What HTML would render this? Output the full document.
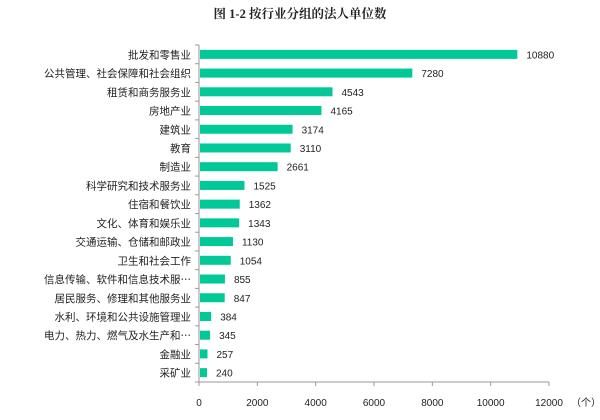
<!DOCTYPE html>
<html><head><meta charset="utf-8"><style>
body{margin:0;background:#fff;width:600px;height:415px;overflow:hidden}
svg text{font-family:"Liberation Sans","Noto Sans CJK SC",sans-serif;fill:#222}
</style></head><body>
<svg id="chart" width="600" height="415" xmlns="http://www.w3.org/2000/svg">
<text x="300" y="18" text-anchor="middle" font-size="12.5" font-weight="bold" style="font-family:'Liberation Serif','Noto Serif CJK SC',serif">图 1-2  按行业分组的法人单位数</text>
<g id="plot"></g>
</svg>
<script>
const categories=["批发和零售业","公共管理、社会保障和社会组织","租赁和商务服务业","房地产业","建筑业","教育","制造业","科学研究和技术服务业","住宿和餐饮业","文化、体育和娱乐业","交通运输、仓储和邮政业","卫生和社会工作","信息传输、软件和信息技术服⋯","居民服务、修理和其他服务业","水利、环境和公共设施管理业","电力、热力、燃气及水生产和⋯","金融业","采矿业"];
const values=[10880,7280,4543,4165,3174,3110,2661,1525,1362,1343,1130,1054,855,847,384,345,257,240];
const ticks=[0,2000,4000,6000,8000,10000,12000];
const NS="http://www.w3.org/2000/svg";
const g=document.getElementById('plot');
const x0=199,x1=549,yTop=45,yBot=382,max=12000;
const band=(yBot-yTop)/categories.length;
const X=v=>x0+(v/max)*(x1-x0);
const Y=i=>yTop+band*(i+0.5);
function mk(t,a){const e=document.createElementNS(NS,t);for(const k in a)e.setAttribute(k,a[k]);g.appendChild(e);return e;}
let e;
e=mk('line',{x1:x0,y1:yTop,x2:x0,y2:yBot,stroke:'#999','stroke-width':1});


e=mk('line',{x1:x0,y1:yBot,x2:x1,y2:yBot,stroke:'#999','stroke-width':1});


for(let i=0;i<=categories.length;i++){
 e=mk('line',{x1:x0-4,y1:yTop+band*i,x2:x0,y2:yTop+band*i,stroke:'#999'});
 
 
}
ticks.forEach(t=>{
 e=mk('line',{x1:X(t),y1:yBot,x2:X(t),y2:yBot+4,stroke:'#999'});
 
 
 e=mk('text',{x:X(t),y:yBot+24,'text-anchor':'middle','font-size':10});
 e.textContent=t;
 
 
});
e=mk('text',{x:X(12000)+22,y:yBot+24,'font-size':10});
e.textContent='（个）';


categories.forEach((c,i)=>{
 const y=Y(i);
 e=mk('rect',{x:x0+1,y:y-4.5,width:X(values[i])-x0,height:9,fill:'#00C896'});
 
 
 e=mk('text',{x:X(values[i])+10,y:y+4,'font-size':10});
 e.textContent=values[i];
 
 
 e=mk('text',{x:x0-8,y:y+4,'text-anchor':'end','font-size':10.5});
 e.textContent=c;
 
 
});
</script>
</body></html>
